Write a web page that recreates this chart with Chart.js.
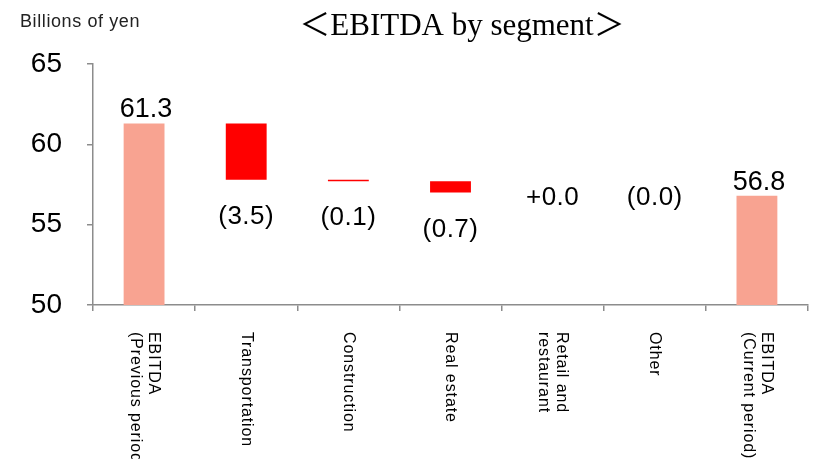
<!DOCTYPE html>
<html>
<head>
<meta charset="utf-8">
<script src="https://cdn.jsdelivr.net/npm/chart.js@4.4.1/dist/chart.umd.min.js"></script>
<style>
  html, body { margin: 0; padding: 0; background: #fff; }
  #wrap { width: 813px; height: 459px; position: relative; }
</style>
</head>
<body>
<div id="wrap"><canvas id="ebitdaChart"></canvas></div>
<script>
// ---- data ----
const categories = [
  ["EBITDA", "(Previous period)"],
  "Transportation",
  "Construction",
  "Real estate",
  ["Retail and", "restaurant"],
  "Other",
  ["EBITDA", "(Current period)"]
];
const previousEbitda = 61.3;
const segmentChanges = [-3.5, -0.1, -0.7, 0.0, -0.0];
const currentEbitda = 56.8;
const valueLabels = ["61.3", "(3.5)", "(0.1)", "(0.7)", "+0.0", "(0.0)", "56.8"];
const yTicks = [50, 55, 60, 65];

const TOTAL_COLOR = "#F8A391";
const DOWN_COLOR = "#FF0000";
const AXIS_COLOR = "#8C8C8C";
const NARROW = "'Liberation Sans Narrow', 'Arial Narrow', 'Liberation Sans', sans-serif";

// build floating bars for the waterfall
const bars = [[yTicks[0], previousEbitda]];
const kinds = ["total"];
let level = previousEbitda;
segmentChanges.forEach(ch => {
  const next = level + ch;
  bars.push([Math.min(level, next), Math.max(level, next)]);
  kinds.push(ch < 0 ? "down" : (ch > 0 ? "up" : "zero"));
  level = next;
});
bars.push([yTicks[0], currentEbitda]);
kinds.push("total");

// titles, value labels, rotated category labels
const annotations = {
  id: "annotations",
  afterDraw(chart) {
    const ctx = chart.ctx;
    const x = chart.scales.x, y = chart.scales.y;
    ctx.save();

    // unit + title
    ctx.letterSpacing = "0.6px";
    ctx.fillStyle = "#222";
    ctx.font = "18px " + NARROW;
    ctx.textAlign = "left";
    ctx.textBaseline = "alphabetic";
    ctx.fillText("Billions of yen", 20, 27);

    ctx.letterSpacing = "0px";
    ctx.fillStyle = "#000";
    ctx.font = "31px 'Liberation Serif', 'Noto Sans CJK JP', serif";
    ctx.textAlign = "center";
    ctx.fillText("＜EBITDA by segment＞", 462, 35);

    // value labels
    bars.forEach((b, i) => {
      const cx = x.getPixelForValue(i);
      const top = y.getPixelForValue(b[1]);
      const bottom = y.getPixelForValue(b[0]);
      ctx.fillStyle = "#000";
      ctx.textAlign = "center";
      if (kinds[i] === "total") {
        ctx.letterSpacing = "0px";
        ctx.font = "27px " + NARROW;
        ctx.textBaseline = "alphabetic";
        ctx.fillText(valueLabels[i], cx + 2, top - 6);
      } else {
        ctx.letterSpacing = "0.5px";
        ctx.font = "26px " + NARROW;
        ctx.textBaseline = "middle";
        ctx.fillText(valueLabels[i], cx, kinds[i] === "down" ? bottom + 37 : bottom + 5);
      }
    });

    // category labels, reading top to bottom
    ctx.letterSpacing = "0.9px";
    ctx.font = "16px " + NARROW;
    ctx.fillStyle = "#000";
    ctx.textAlign = "left";
    ctx.textBaseline = "middle";
    categories.forEach((c, i) => {
      const lines = Array.isArray(c) ? c : [c];
      const cx = x.getPixelForValue(i);
      const lh = 18;
      lines.forEach((line, j) => {
        const off = ((lines.length - 1) / 2 - j) * lh;
        ctx.save();
        ctx.translate(cx + off, 332);
        ctx.rotate(Math.PI / 2);
        ctx.fillText(line, 0, 0);
        ctx.restore();
      });
    });
    ctx.restore();
  }
};

const ctx = document.getElementById("ebitdaChart").getContext("2d");
const chart = new Chart(ctx, {
  type: "bar",
  data: {
    labels: categories,
    datasets: [{
      data: bars,
      backgroundColor: kinds.map(k => k === "total" ? TOTAL_COLOR : DOWN_COLOR),
      borderWidth: 0,
      borderSkipped: false,
      categoryPercentage: 1,
      barPercentage: 0.4
    }]
  },
  options: {
    responsive: true,
    maintainAspectRatio: false,
    animation: false,
    layout: { padding: { left: 0, right: 5, top: 64, bottom: 148 } },
    plugins: {
      legend: { display: false },
      tooltip: { enabled: false },
      title: { display: false }
    },
    scales: {
      x: {
        offset: true,
        ticks: { display: false },
        grid: { drawOnChartArea: false, offset: true, tickLength: 6, color: AXIS_COLOR, lineWidth: 1.5 },
        border: { color: AXIS_COLOR, width: 1.5 }
      },
      y: {
        min: yTicks[0],
        max: yTicks[yTicks.length - 1],
        afterFit(scale) { scale.width = 93; },
        afterBuildTicks(scale) { scale.ticks = yTicks.map(v => ({ value: v })); },
        ticks: { color: "#000", font: { family: NARROW, size: 28 }, padding: 25 },
        grid: { drawOnChartArea: false, tickLength: 6, color: AXIS_COLOR, lineWidth: 1.5 },
        border: { color: AXIS_COLOR, width: 1.5 }
      }
    }
  },
  plugins: [annotations]
});
</script>
</body>
</html>
